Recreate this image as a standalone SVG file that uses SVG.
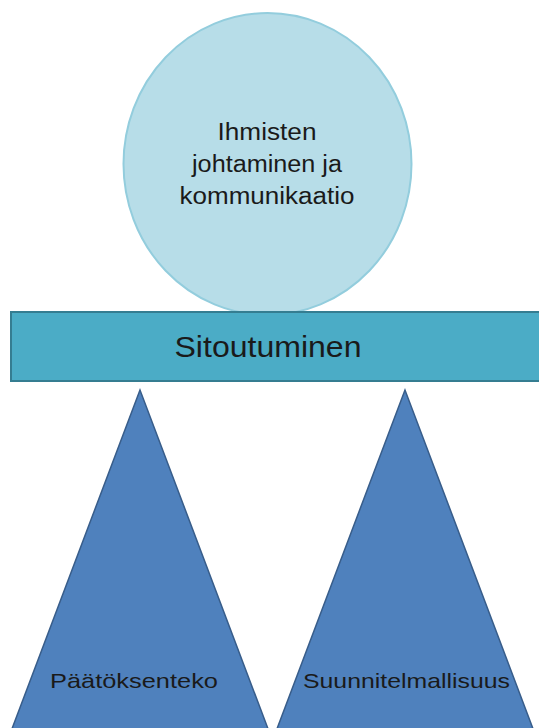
<svg xmlns="http://www.w3.org/2000/svg" width="539" height="728" viewBox="0 0 539 728">
  <style>
    .lbl { font-family: "Liberation Sans", Arial, sans-serif; fill: #1a1a1a; text-anchor: middle; }
    .circle { fill: #B7DDE8; stroke: #93CDDD; stroke-width: 2; }
    .bar { fill: #4BACC6; stroke: #357D91; stroke-width: 2; }
    .tri { fill: #4F81BD; stroke: #385D8A; stroke-width: 1.5; }
  </style>
  <rect width="539" height="728" fill="#ffffff"/>
  <g id="ihmisten">
    <ellipse class="circle" cx="267.5" cy="164" rx="144" ry="151"/>
    <text class="lbl" x="267" y="140" font-size="23" textLength="99" lengthAdjust="spacingAndGlyphs">Ihmisten</text>
    <text class="lbl" x="267" y="172" font-size="23" textLength="150" lengthAdjust="spacingAndGlyphs">johtaminen ja</text>
    <text class="lbl" x="267" y="204" font-size="23" textLength="175" lengthAdjust="spacingAndGlyphs">kommunikaatio</text>
  </g>
  <g id="paatoksenteko">
    <polygon class="tri" points="140,390 7,742 273,742"/>
    <text class="lbl" x="134" y="688" font-size="21" textLength="168" lengthAdjust="spacingAndGlyphs">Päätöksenteko</text>
  </g>
  <g id="suunnitelmallisuus">
    <polygon class="tri" points="405,390 272,742 538,742"/>
    <text class="lbl" x="406.5" y="688" font-size="21" textLength="207" lengthAdjust="spacingAndGlyphs">Suunnitelmallisuus</text>
  </g>
  <g id="sitoutuminen">
    <rect class="bar" x="11" y="312" width="540" height="69"/>
    <text class="lbl" x="268" y="357" font-size="30" textLength="187" lengthAdjust="spacingAndGlyphs">Sitoutuminen</text>
  </g>
  <g id="connectors"></g>
</svg>
